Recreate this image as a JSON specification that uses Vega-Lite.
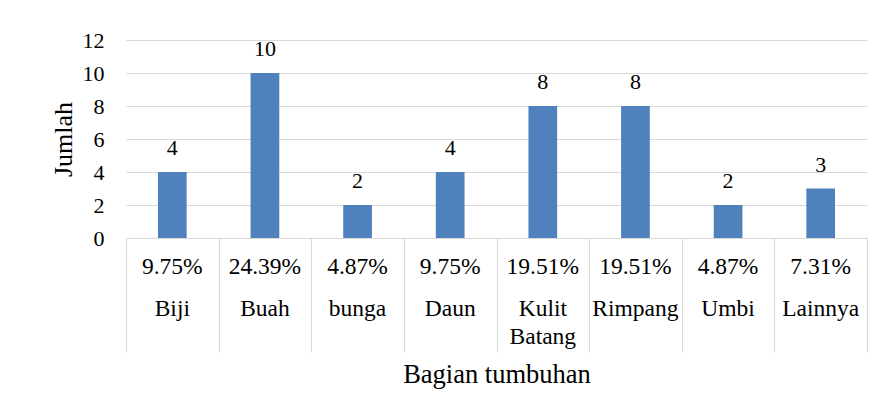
{
  "$schema": "https://vega.github.io/schema/vega-lite/v6.json",
  "padding": {"left": 50, "top": 29, "right": 15, "bottom": 5},
  "background": "white",
  "spacing": 0,
  "bounds": "flush",
  "config": {
    "font": "Liberation Serif",
    "view": {"stroke": null},
    "axis": {"labelFont": "Liberation Serif", "titleFont": "Liberation Serif", "labelColor": "black", "titleColor": "black", "titleFontWeight": "normal", "labelFontSize": 22, "titleFontSize": 26}
  },
  "datasets": {
    "bagian": [
      {"bagian": "Biji", "jumlah": 4, "persen": "9.75%"},
      {"bagian": "Buah", "jumlah": 10, "persen": "24.39%"},
      {"bagian": "bunga", "jumlah": 2, "persen": "4.87%"},
      {"bagian": "Daun", "jumlah": 4, "persen": "9.75%"},
      {"bagian": "Kulit Batang", "jumlah": 8, "persen": "19.51%"},
      {"bagian": "Rimpang", "jumlah": 8, "persen": "19.51%"},
      {"bagian": "Umbi", "jumlah": 2, "persen": "4.87%"},
      {"bagian": "Lainnya", "jumlah": 3, "persen": "7.31%"}
    ]
  },
  "resolve": {"scale": {"x": "independent"}},
  "vconcat": [
    {
      "width": 741,
      "height": 198,
      "data": {"name": "bagian"},
      "encoding": {
        "x": {"field": "bagian", "type": "nominal", "sort": null,
          "scale": {"paddingInner": 0.69, "paddingOuter": 0.345},
          "axis": {"labels": false, "ticks": false, "title": null, "domainColor": "#D9D9D9", "domainWidth": 1}},
        "y": {"field": "jumlah", "type": "quantitative", "scale": {"domain": [0, 12]},
          "axis": {"values": [0, 2, 4, 6, 8, 10, 12], "title": "Jumlah", "domain": false, "ticks": false, "labelPadding": 22, "titlePadding": 6, "gridColor": "#D9D9D9", "gridWidth": 1}}
      },
      "layer": [
        {"mark": {"type": "bar", "color": "#4F81BD"}},
        {"mark": {"type": "text", "baseline": "alphabetic", "dy": -17, "fontSize": 22, "color": "black"},
          "encoding": {"text": {"field": "jumlah", "type": "quantitative"}}}
      ]
    },
    {
      "width": 741,
      "height": 114,
      "data": {"name": "bagian"},
      "transform": [{"fold": ["persen", "bagian"], "as": ["baris", "teks"]}],
      "mark": {"type": "text", "baseline": "alphabetic", "fontSize": 23.5, "lineBreak": " ", "lineHeight": 27.5, "color": "black"},
      "encoding": {
        "x": {"field": "bagian", "type": "nominal", "sort": null,
          "scale": {"paddingInner": 0, "paddingOuter": 0},
          "axis": {"orient": "bottom", "labels": false, "ticks": false, "domain": false, "grid": true, "gridColor": "#D9D9D9", "gridWidth": 1, "tickBand": "extent", "title": "Bagian tumbuhan", "titleFontSize": 26.5, "titlePadding": 9}},
        "y": {"field": "baris", "type": "nominal", "scale": {"type": "point", "domain": ["persen", "bagian"], "padding": 0.8256, "align": 0.5}, "axis": null},
        "text": {"field": "teks", "type": "nominal"}
      }
    }
  ]
}
